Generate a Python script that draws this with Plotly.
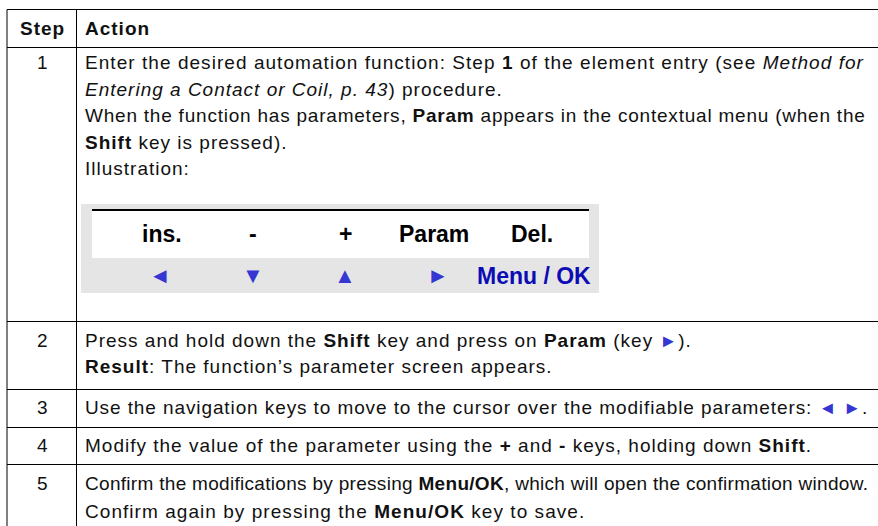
import plotly.graph_objects as go

# ---------------- data (text content) ----------------
header = ["Step", "Action"]
steps = ["1", "2", "3", "4", "5"]
actions = [
    ["Enter the desired automation function: Step <b>1</b> of the element entry (see <i>Method for</i>",
     "<i>Entering a Contact or Coil, p. 43</i>) procedure.",
     "When the function has parameters, <b>Param</b> appears in the contextual menu (when the",
     "<b>Shift</b> key is pressed).",
     "Illustration:"],
    ["Press and hold down the <b>Shift</b> key and press on <b>Param</b> (key {R}).",
     "<b>Result</b>: The function\u2019s parameter screen appears."],
    ["Use the navigation keys to move to the cursor over the modifiable parameters: {L} {R}."],
    ["Modify the value of the parameter using the <b>+</b> and <b>-</b> keys, holding down <b>Shift</b>."],
    ["Confirm the modifications by pressing <b>Menu/OK</b>, which will open the confirmation window.",
     "Confirm again by pressing the <b>Menu/OK</b> key to save."],
]
screen_keys = ["ins.", "-", "+", "Param", "Del."]
nav_keys = ["\u25c4", "\u25bc", "\u25b2", "\u25ba", "Menu / OK"]

# ---------------- layout / style constants ----------------
W, H = 878, 526
FONT = "Liberation Sans, Arial, Helvetica, sans-serif"
FS = 19
TEXT_COLOR = "#111111"
TRI_COLOR = "#3636d2"
MENU_COLOR = "#0c0cb4"
GRAY = "#e5e5e5"

x_left, x_div, x_right = 7, 76.5, 878
row_lines = [9.5, 47.5, 321.5, 389.5, 427.5, 464.5]
header_base = 35.7
baselines = [[69.3, 95.9, 122.5, 149.1, 175.7],
             [347.7, 373.2],
             [414.5],
             [452.7],
             [490.0, 518.5]]
spacing = [[1.05, 1.0, 0.78, 1.0, 1.0], [1.0, 1.0], [0.9], [1.0], [0.3, 1.05]]
x_text = 83
x_step = 42

box_outer = (81, 204, 599, 293)
box_inner = (92, 210, 589, 258)
top_keys_x = [161.5, 252.5, 345.3, 434, 532]
nav_keys_x = [159.7, 252.5, 345, 438, 533.5]
top_keys_y = 234.0
nav_keys_y = 275.5

tri = lambda ch: f'<span style="color:{TRI_COLOR};font-size:18px">{ch}</span>'


def center(base, fs=FS):
    return base - 0.358 * fs


fig = go.Figure()
shapes = []
annotations = []

# table grid
for yl in row_lines:
    shapes.append(dict(type="line", x0=x_left, x1=x_right, y0=yl, y1=yl,
                       line=dict(color="black", width=1)))
for xl in (x_left, x_div):
    shapes.append(dict(type="line", x0=xl, x1=xl, y0=row_lines[0], y1=H,
                       line=dict(color="black", width=1)))

# illustration box
shapes.append(dict(type="rect", x0=box_outer[0], y0=box_outer[1], x1=box_outer[2], y1=box_outer[3],
                   fillcolor=GRAY, line=dict(width=0), layer="below"))
shapes.append(dict(type="rect", x0=box_inner[0], y0=box_inner[1], x1=box_inner[2], y1=box_inner[3],
                   fillcolor="white", line=dict(width=0), layer="below"))
shapes.append(dict(type="line", x0=box_inner[0], x1=box_inner[2], y0=box_inner[1], y1=box_inner[1],
                   line=dict(color="black", width=2)))


def ann(x, y, text, size=FS, color=TEXT_COLOR, xanchor="left", ls=1.0):
    if ls:
        text = f'<span style="letter-spacing:{ls}px">{text}</span>'
    annotations.append(dict(x=x, y=y, xref="x", yref="y", text=text, showarrow=False,
                            xanchor=xanchor, yanchor="middle",
                            font=dict(family=FONT, size=size, color=color)))


# header
ann(x_step, center(header_base), f"<b>{header[0]}</b>", xanchor="center")
ann(x_text, center(header_base), f"<b>{header[1]}</b>")

# rows
for i, (st, lines) in enumerate(zip(steps, actions)):
    ann(x_step, center(baselines[i][0]), st, xanchor="center", ls=0)
    for j, line in enumerate(lines):
        t = line.replace("{R}", tri("\u25ba")).replace("{L}", tri("\u25c4"))
        ann(x_text, center(baselines[i][j]), t, ls=spacing[i][j])

# illustration keys
for k, xk in zip(screen_keys, top_keys_x):
    ann(xk, top_keys_y, f"<b>{k}</b>", size=23, color="#000000", xanchor="center", ls=0)
for k, xk in zip(nav_keys, nav_keys_x):
    if len(k) == 1:
        ann(xk, nav_keys_y, k, size=22, color=TRI_COLOR, xanchor="center", ls=0)
    else:
        ann(xk, nav_keys_y, f"<b>{k}</b>", size=23, color=MENU_COLOR, xanchor="center", ls=0)

fig.update_layout(
    width=W, height=H,
    margin=dict(l=0, r=0, t=0, b=0),
    paper_bgcolor="white", plot_bgcolor="white",
    xaxis=dict(range=[0, W], visible=False, fixedrange=True),
    yaxis=dict(range=[H, 0], visible=False, fixedrange=True),
    shapes=shapes, annotations=annotations,
    showlegend=False, hovermode=False,
)

fig.write_html("out.html", config={"displayModeBar": False},
               post_script="document.body.style.margin='0';document.body.style.overflow='hidden';")
